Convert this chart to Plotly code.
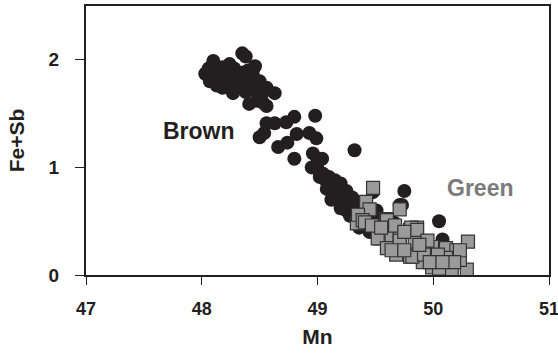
import plotly.graph_objects as go

brown_mn = [48.03,48.07,48.10,48.06,48.12,48.15,48.18,48.18,48.22,48.24,48.27,48.25,48.20,48.30,48.33,48.35,48.35,48.38,48.40,48.40,48.44,48.46,48.42,48.48,48.46,48.50,48.53,48.56,48.63,48.28,48.32,48.48,48.52,48.38,48.13,
            48.41,48.56,48.50,48.54,48.56,48.63,48.73,48.80,48.98,48.66,48.74,48.82,48.93,48.99,48.80,48.96,49.04,49.32,
            48.99,49.01,49.02,49.05,49.07,49.11,49.10,49.15,49.19,49.14,49.22,49.25,49.20,49.23,49.28,49.30,49.25,49.33,49.36,49.36,49.40,49.30,49.17,49.08,
            49.15,49.20,49.25,49.30,49.35,49.40,49.45,49.12,49.20,49.28,49.35,49.42,49.50,48.95,49.00,
            49.48,49.75,49.73,49.49,49.51,49.67,49.65,49.71,50.05,50.08,49.45,49.55,49.60,49.80]
brown_fesb = [1.87,1.80,1.99,1.92,1.85,1.90,1.74,1.93,1.78,1.96,1.69,1.86,1.82,1.75,1.80,1.88,2.06,2.03,1.90,1.82,1.87,1.94,1.75,1.69,1.78,1.80,1.60,1.74,1.69,1.92,1.85,1.62,1.68,1.70,1.76,
              1.59,1.57,1.28,1.32,1.41,1.41,1.42,1.47,1.48,1.19,1.23,1.31,1.32,1.27,1.08,1.13,1.08,1.16,
              1.02,0.97,0.91,0.94,0.88,0.85,0.91,0.82,0.81,0.78,0.76,0.72,0.70,0.65,0.66,0.57,0.60,0.53,0.49,0.44,0.50,0.62,0.74,0.80,
              0.88,0.85,0.78,0.72,0.66,0.60,0.55,0.70,0.62,0.55,0.50,0.45,0.40,1.00,1.05,
              0.77,0.78,0.65,0.55,0.60,0.48,0.49,0.65,0.50,0.33,0.40,0.45,0.35,0.40]

green_mn = [49.48,49.42,49.45,49.34,49.35,49.39,49.59,49.71,49.41,49.54,49.64,49.71,49.86,49.80,49.91,49.84,49.68,49.80,49.84,49.99,50.11,50.20,50.30,50.16,50.29,50.05,50.23,49.60,49.81,49.52,49.60,49.71,49.91,49.99,49.82,50.23,50.11,49.86,49.67,49.75,49.95,50.04,49.92,49.47,49.55,49.64,49.75,49.97,50.18,50.08,49.88]
green_fesb = [0.81,0.68,0.61,0.48,0.56,0.51,0.52,0.61,0.49,0.34,0.34,0.34,0.44,0.42,0.25,0.30,0.19,0.17,0.19,0.07,0.25,0.23,0.31,0.05,0.05,0.06,0.14,0.51,0.44,0.34,0.25,0.32,0.12,0.26,0.17,0.23,0.16,0.42,0.46,0.40,0.32,0.19,0.19,0.46,0.44,0.23,0.23,0.12,0.12,0.12,0.28]

x_ticks = [47, 48, 49, 50, 51]
y_ticks = [0, 1, 2]

FONT = "Arial, Liberation Sans, sans-serif"
INK = "#231f20"

fig = go.Figure()
fig.add_trace(go.Scatter(x=brown_mn, y=brown_fesb, mode="markers", name="Brown",
                         marker=dict(symbol="circle", size=14, color=INK, line=dict(width=0))))
fig.add_trace(go.Scatter(x=green_mn, y=green_fesb, mode="markers", name="Green",
                         marker=dict(symbol="square", size=13, color="#9a9a9a", line=dict(width=1.2, color="#333333"))))

fig.add_annotation(x=47.98, y=1.34, text="Brown", showarrow=False,
                   font=dict(family=FONT, size=23, color=INK, weight="bold"))
fig.add_annotation(x=50.40, y=0.81, text="Green", showarrow=False,
                   font=dict(family=FONT, size=23, color="#7a7a7a", weight="bold"))

fig.update_layout(
    width=558, height=353,
    margin=dict(l=86, r=9, t=6, b=78),
    paper_bgcolor="white", plot_bgcolor="white",
    showlegend=False,
    font=dict(family=FONT, color=INK),
)
fig.update_xaxes(range=[47, 51], tickvals=x_ticks, ticktext=[str(v) for v in x_ticks],
                 automargin=False, ticklabeloverflow="allow",
                 showgrid=False, zeroline=False, showline=True, mirror=True,
                 linecolor=INK, linewidth=2, ticks="outside", ticklen=8,
                 tickcolor=INK, tickwidth=1, ticklabelstandoff=8,
                 tickfont=dict(family=FONT, size=18, color=INK, weight="bold"),
                 title=dict(text="Mn", font=dict(family=FONT, size=21, color=INK, weight="bold"), standoff=12))
fig.update_yaxes(range=[0, 2.5], tickvals=y_ticks, ticktext=[str(v) for v in y_ticks],
                 automargin=False, ticklabeloverflow="allow",
                 showgrid=False, zeroline=False, showline=True, mirror=True,
                 linecolor=INK, linewidth=2, ticks="outside", ticklen=9,
                 tickcolor=INK, tickwidth=1, ticklabelstandoff=12,
                 tickfont=dict(family=FONT, size=19, color=INK, weight="bold"),
                 title=dict(text="Fe+Sb", font=dict(family=FONT, size=21, color=INK, weight="bold"), standoff=18))

fig.write_html("out.html", config={"displayModeBar": False},
               post_script="document.body.style.margin='0';")
